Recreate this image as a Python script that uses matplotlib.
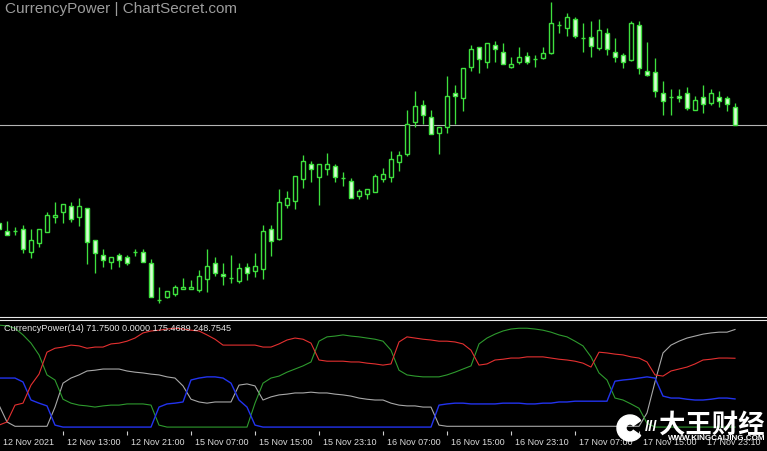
import matplotlib
matplotlib.use('Agg')
import matplotlib.pyplot as plt
from matplotlib.lines import Line2D
from matplotlib.patches import Wedge
import numpy as np

plt.rcParams['font.family'] = ['Liberation Sans', 'DejaVu Sans']

# ── H1 candles (chart units, higher = up), bar -1 is the clipped one on the left ──
bars = np.arange(-1, 92)
open_ = [97, 89, 89, 91, 68, 77, 88, 103, 108, 114, 103, 112, 80, 65, 58, 65, 63, 68, 68, 57,
         20, 23, 26, 31, 31, 30, 41, 57, 46, 42, 39, 53, 49, 51, 91, 81, 115, 119, 141, 156,
         143, 151, 154, 142, 139, 124, 126, 128, 141, 143, 158, 166, 198, 215, 203, 187, 193, 227, 222, 253,
         273, 258, 275, 268, 253, 258, 264, 261, 262, 267, 295, 292, 301, 282, 283, 272, 287, 268, 265, 260,
         295, 249, 248, 227, 223, 224, 227, 210, 223, 217, 223, 222, 213]
high = [99, 99, 93, 95, 91, 91, 108, 118, 116, 118, 122, 112, 80, 71, 63, 67, 65, 71, 71, 61,
        33, 29, 35, 42, 40, 50, 71, 63, 57, 65, 57, 57, 67, 95, 95, 131, 129, 144, 165, 159,
        156, 167, 156, 148, 142, 131, 131, 146, 152, 169, 169, 210, 229, 220, 210, 193, 244, 235, 252, 275,
        273, 277, 279, 277, 263, 273, 268, 265, 273, 318, 299, 307, 303, 297, 299, 301, 292, 282, 267, 299,
        299, 278, 262, 239, 231, 231, 233, 224, 235, 231, 229, 224, 217]
low = [89, 85, 85, 67, 62, 73, 88, 97, 97, 98, 94, 56, 47, 53, 51, 53, 55, 64, 58, 23,
       17, 22, 24, 31, 31, 28, 28, 44, 35, 37, 37, 40, 43, 41, 64, 80, 112, 111, 132, 138,
       115, 145, 138, 134, 122, 121, 121, 128, 138, 138, 149, 164, 193, 196, 186, 166, 187, 196, 209, 249,
       247, 252, 258, 256, 252, 256, 256, 253, 261, 266, 287, 284, 282, 268, 263, 270, 265, 258, 252, 259,
       246, 244, 223, 205, 205, 218, 210, 210, 207, 215, 213, 209, 195]
close = [91, 85, 89, 71, 80, 91, 105, 105, 116, 101, 114, 78, 67, 60, 63, 60, 57, 68, 58, 23,
         20, 29, 33, 33, 33, 44, 54, 47, 44, 42, 52, 47, 54, 89, 79, 118, 122, 144, 159, 151,
         156, 156, 143, 142, 122, 129, 131, 144, 146, 161, 165, 196, 214, 205, 186, 193, 224, 224, 252, 271,
         261, 277, 271, 256, 256, 263, 258, 261, 267, 297, 295, 303, 284, 282, 274, 290, 271, 263, 258, 297,
         252, 245, 229, 219, 223, 222, 212, 220, 216, 227, 219, 216, 195]

# ── CurrencyPower(14) buffers ──
cp_red = [5, 13, 56, 61, 107, 135, 191, 201, 204, 209, 207, 201, 204, 204, 212, 214, 219, 227, 240, 245,
          247, 250, 252, 250, 247, 245, 235, 224, 209, 209, 209, 209, 209, 204, 204, 212, 222, 227, 224, 214,
          171, 168, 168, 168, 166, 166, 163, 161, 158, 161, 217, 230, 227, 224, 222, 219, 219, 217, 212, 196,
          158, 161, 171, 173, 176, 176, 179, 179, 179, 176, 173, 171, 168, 163, 153, 191, 189, 186, 184, 179,
          176, 166, 133, 130, 143, 148, 153, 161, 171, 173, 176, 176, 175.4689]
cp_green = [260, 258, 252, 235, 214, 184, 133, 120, 71, 61, 56, 54, 51, 54, 56, 56, 59, 59, 59, 56,
            5, 0, 0, 0, 0, 0, 0, 0, 0, 0, 0, 0, 61, 112, 125, 130, 140, 148, 156, 166,
            219, 230, 232, 235, 232, 230, 227, 224, 219, 196, 145, 133, 130, 128, 128, 128, 133, 140, 148, 156,
            212, 227, 237, 245, 250, 252, 252, 250, 247, 242, 235, 230, 219, 207, 179, 138, 120, 74, 69, 59,
            48, 10, 0, 0, 0, 0, 0, 0, 0, 0, 0, 0, 0.0]
cp_blue = [125, 125, 125, 115, 69, 61, 54, 5, 0, 0, 0, 0, 0, 0, 0, 0, 0, 0, 0, 0,
           51, 59, 61, 64, 120, 125, 128, 128, 125, 112, 69, 51, 5, 0, 0, 0, 0, 0, 0, 0,
           0, 0, 0, 0, 0, 0, 0, 0, 0, 0, 0, 0, 0, 0, 0, 56, 59, 61, 61, 59,
           59, 59, 59, 61, 61, 61, 59, 59, 61, 61, 64, 64, 66, 66, 66, 66, 66, 117, 120, 122,
           125, 128, 125, 79, 74, 74, 71, 69, 69, 71, 74, 74, 71.75]
cp_gray = [56, 13, 2, 2, 2, 2, 2, 51, 112, 125, 133, 143, 145, 148, 148, 148, 143, 140, 138, 135,
           133, 128, 125, 105, 71, 64, 61, 64, 64, 64, 107, 110, 105, 69, 77, 82, 84, 87, 87, 89,
           87, 87, 84, 82, 79, 74, 71, 69, 69, 61, 56, 54, 54, 51, 51, 5, 2, 2, 2, 2,
           2, 2, 2, 2, 2, 2, 2, 2, 2, 2, 2, 2, 2, 2, 2, 2, 2, 2, 2, 2,
           2, 36, 115, 189, 209, 219, 227, 232, 237, 240, 242, 242, 248.7545]

tick_bars = [-1, 7, 15, 23, 31, 39, 47, 55, 63, 71, 79, 87]
tick_text = ["12 Nov 2021", "12 Nov 13:00", "12 Nov 21:00", "15 Nov 07:00", "15 Nov 15:00",
             "15 Nov 23:10", "16 Nov 07:00", "16 Nov 15:00", "16 Nov 23:10", "17 Nov 07:00",
             "17 Nov 15:00", "17 Nov 23:10"]

W, H = 767, 451
fig = plt.figure(figsize=(W / 100, H / 100), dpi=100, facecolor='black')
ax = fig.add_axes([0, 1 - 316 / H, 1, 316 / H], facecolor='black')
ai = fig.add_axes([0, 1 - 431 / H, 1, 111 / H], facecolor='black')

LIME = '#3ee03e'
o = np.array(open_); c = np.array(close)
ax.vlines(bars, low, high, color=LIME, lw=0.95, zorder=1)
fills = np.where(c < o, '#d6ffd2', 'black')
ax.bar(bars, c - o, bottom=o, width=0.6, color=fills, edgecolor=LIME, lw=1.0, zorder=2)
ax.axhline(close[-1], color='#b4b4b4', lw=0.8, zorder=0)
ax.set_xlim(-0.875, 95)
ax.set_ylim(4, 320)
ax.axis('off')

ai.plot(bars, cp_gray, color='#a8a8a8', lw=0.8)
ai.plot(bars, cp_green, color='#2e9a2e', lw=0.8)
ai.plot(bars, cp_blue, color='#2233ee', lw=1.0)
ai.plot(bars, cp_red, color='#e43030', lw=0.8)
ai.set_xlim(-0.875, 95)
ai.set_ylim(-10, 273)
for s in ai.spines.values():
    s.set_visible(False)
ai.set_yticks([])
ai.set_xticks(tick_bars[1:])
ai.set_xticklabels([])
ai.tick_params(axis='x', length=3, width=0.8, color='#d0d0d0', direction='out')
for b, t in zip(tick_bars, tick_text):
    ai.text(b + 0.45, -0.125, t, transform=ai.get_xaxis_transform(), color='#dcdcdc',
            fontsize=6.5, ha='left', va='baseline', clip_on=False)

# window separators
for yp in (316.5, 319.5):
    fig.add_artist(Line2D([0, 1], [1 - yp / H] * 2, color='#e8e8e8', lw=0.8))

fig.text(5 / W, 1 - 13 / H, "CurrencyPower | ChartSecret.com", color='#9c9c9c', fontsize=11,
         va='baseline')
fig.text(4 / W, 1 - 331 / H, "CurrencyPower(14) 71.7500 0.0000 175.4689 248.7545",
         color='#e6e6e6', fontsize=6.6, va='baseline')

# watermark (sits over the time labels, as in the source)
fig.add_artist(Wedge((6.30, 0.23), 0.13, 35, 325, width=0.09, color='white',
                     transform=fig.dpi_scale_trans))
fig.text(651 / W, 1 - 427 / H, "///", color='white', fontsize=11, fontweight='bold',
         ha='center', va='center')
fig.text(712 / W, 1 - 425 / H, "大王财经", color='white', fontsize=19, fontweight='bold',
         family=['Noto Sans CJK SC', 'DejaVu Sans'], ha='center', va='center')
fig.text(717 / W, 1 - 439 / H, "WWW.KINGCAIJING.COM", color='white', fontsize=5.8,
         fontweight='bold', ha='center', va='center')

fig.savefig('out.png', dpi=100, facecolor='black')
